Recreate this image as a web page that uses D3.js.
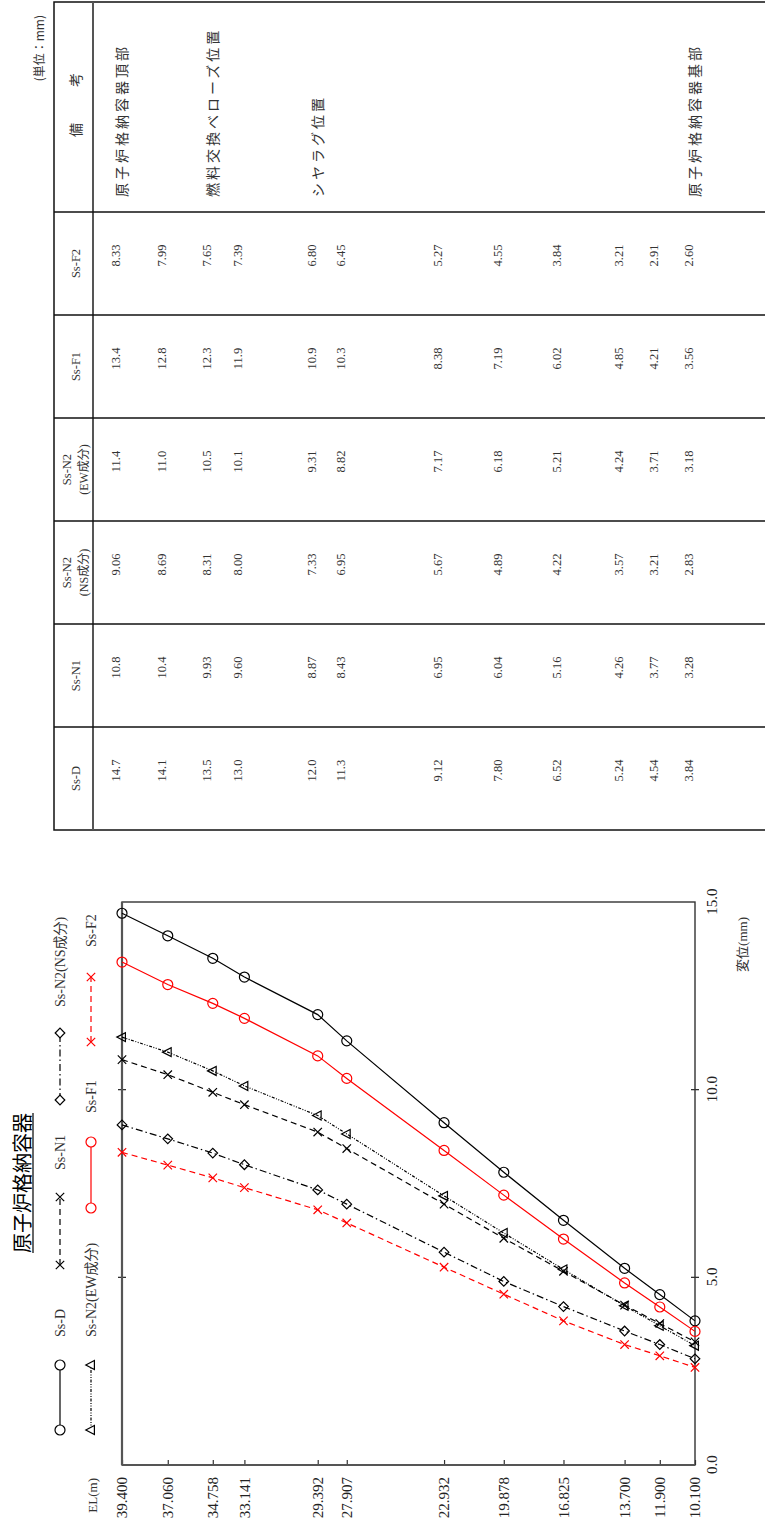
<!DOCTYPE html>
<html><head><meta charset="utf-8">
<script src="https://cdn.jsdelivr.net/npm/d3@7"></script>
<style>html,body{margin:0;padding:0;background:#fff;overflow:hidden}</style>
</head><body>
<svg id="c" width="765" height="1528"></svg>
<script>
// ---------- data ----------
const elevations = [39.400, 37.060, 34.758, 33.141, 29.392, 27.907, 22.932, 19.878, 16.825, 13.700, 11.900, 10.100];
const elLabels = ["39.400","37.060","34.758","33.141","29.392","27.907","22.932","19.878","16.825","13.700","11.900","10.100"];
const seriesNames = ["Ss-D","Ss-N1","Ss-N2(NS成分)","Ss-N2(EW成分)","Ss-F1","Ss-F2"];
const ssD    = [14.7, 14.1, 13.5, 13.0, 12.0, 11.3, 9.12, 7.80, 6.52, 5.24, 4.54, 3.84];
const ssN1   = [10.8, 10.4, 9.93, 9.60, 8.87, 8.43, 6.95, 6.04, 5.16, 4.26, 3.77, 3.28];
const ssN2NS = [9.06, 8.69, 8.31, 8.00, 7.33, 6.95, 5.67, 4.89, 4.22, 3.57, 3.21, 2.83];
const ssN2EW = [11.4, 11.0, 10.5, 10.1, 9.31, 8.82, 7.17, 6.18, 5.21, 4.24, 3.71, 3.18];
const ssF1   = [13.4, 12.8, 12.3, 11.9, 10.9, 10.3, 8.38, 7.19, 6.02, 4.85, 4.21, 3.56];
const ssF2   = [8.33, 7.99, 7.65, 7.39, 6.80, 6.45, 5.27, 4.55, 3.84, 3.21, 2.91, 2.60];
const tableHeaders = [["Ss-D"],["Ss-N1"],["Ss-N2","(NS成分)"],["Ss-N2","(EW成分)"],["Ss-F1"],["Ss-F2"]];
const remarks = ["原子炉格納容器頂部","","燃料交換ベローズ位置","","シヤラグ位置","","","","","","","原子炉格納容器基部"];
const dispTicks = [0, 5, 10, 15];
const dispTickLabels = ["0.0","5.0","10.0","15.0"];
const titleText = "原子炉格納容器";

// ---------- styles ----------
const serif = "'Liberation Serif','Noto Sans CJK JP',serif";
const cjk = "'Noto Sans CJK JP',sans-serif";
const allSeries = [ssD, ssN1, ssN2NS, ssN2EW, ssF1, ssF2];
const styles = [
  {color:"#000", dash:null, sym:"circle"},
  {color:"#000", dash:"6,4", sym:"cross"},
  {color:"#000", dash:"7,3,1.5,3", sym:"diamond"},
  {color:"#000", dash:"3,1.5,1,1.5,1,1.5", sym:"triangle"},
  {color:"#f00", dash:null, sym:"circle"},
  {color:"#f00", dash:"6,4", sym:"cross"}
];
const symPath = {
  circle: d3.symbol().type(d3.symbolCircle).size(Math.PI*25)(),
  cross: "M-4.2,-4.2L4.2,4.2M-4.2,4.2L4.2,-4.2",
  diamond: "M0,-4.8L4.8,0L0,4.8L-4.8,0Z",
  triangle: "M0,-5.2L4.5,3.4L-4.5,3.4Z"
};

const svg = d3.select("#c");
svg.append("rect").attr("width",765).attr("height",1528).attr("fill","#fff");
// landscape page rotated onto the portrait canvas
const g = svg.append("g").attr("transform","translate(0,1528) rotate(-90)");

// ---------- scales ----------
const x = d3.scaleLinear().domain([0,15]).range([63,626]);
const y = d3.scaleLinear().domain([10.1,39.4]).range([695,122]);

// ---------- title ----------
const title = g.append("text").attr("x",345).attr("y",29.5).attr("text-anchor","middle")
  .attr("font-family",cjk).attr("font-size",20).attr("fill","#000").text(titleText);
const tl = title.node().getComputedTextLength();
g.append("line").attr("x1",345-tl/2).attr("x2",345+tl/2).attr("y1",33).attr("y2",33)
  .attr("stroke","#000").attr("stroke-width",1.2);

// ---------- legend ----------
const legendItems = [
  {s:0, x1:98,  x2:163, tx:191, y:60},
  {s:1, x1:263, x2:331, tx:358, y:60},
  {s:2, x1:428, x2:495, tx:521, y:60},
  {s:3, x1:98,  x2:163, tx:191, y:91},
  {s:4, x1:320, x2:386, tx:415, y:91},
  {s:5, x1:486, x2:551, tx:581, y:91}
];
const lg = g.append("g");
legendItems.forEach(it => {
  const st = styles[it.s];
  lg.append("line").attr("x1",it.x1).attr("x2",it.x2).attr("y1",it.y).attr("y2",it.y)
    .attr("stroke",st.color).attr("stroke-width",1.2).attr("stroke-dasharray",st.dash);
  [it.x1,it.x2].forEach(px => lg.append("path").attr("d",symPath[st.sym])
    .attr("transform",`translate(${px},${it.y})`).attr("fill","#fff")
    .attr("stroke",st.color).attr("stroke-width",1.2));
  lg.append("text").attr("x",it.tx).attr("y",it.y+5).attr("font-family",serif)
    .attr("font-size",14).attr("fill","#333").text(seriesNames[it.s]);
});

// ---------- axes ----------
const yAxis = g.append("g").attr("transform","translate(63,0)")
  .call(d3.axisLeft(y).tickValues(elevations).tickSize(-5).tickPadding(12)
    .tickFormat((d,i)=>elLabels[i]));
yAxis.select(".domain").remove();
yAxis.selectAll("line").attr("stroke","#333").attr("stroke-width",1.2);
yAxis.selectAll("text").attr("font-family",serif).attr("font-size",15).attr("fill","#222");

const xAxis = g.append("g").attr("transform","translate(0,695)")
  .call(d3.axisBottom(x).tickValues(dispTicks).tickSize(0).tickPadding(11)
    .tickFormat((d,i)=>dispTickLabels[i]));
xAxis.select(".domain").remove();
xAxis.selectAll("text").attr("font-family",serif).attr("font-size",15).attr("fill","#222");

// crossing ticks on top / bottom edges
[122,695].forEach(yy => {
  g.selectAll(null).data(dispTicks.filter(d=>d>0 && d<15)).enter().append("line")
    .attr("x1",d=>x(d)).attr("x2",d=>x(d)).attr("y1",yy-4).attr("y2",yy+4)
    .attr("stroke","#222").attr("stroke-width",1.2);
});

// frame
g.append("rect").attr("x",63).attr("y",122).attr("width",626-63).attr("height",695-122)
  .attr("fill","none").attr("stroke","#333").attr("stroke-width",1.4);
g.append("line").attr("x1",63).attr("x2",626).attr("y1",122).attr("y2",122)
  .attr("stroke","#555").attr("stroke-width",2.2);
g.append("line").attr("x1",63).attr("x2",63).attr("y1",122).attr("y2",695)
  .attr("stroke","#555").attr("stroke-width",2.2);

g.append("text").attr("x",50).attr("y",97).attr("text-anchor","end")
  .attr("font-family",serif).attr("font-size",13).attr("fill","#333").text("EL(m)");
g.append("text").attr("x",611).attr("y",747).attr("text-anchor","end")
  .attr("font-family",serif).attr("font-size",13).attr("fill","#333").text("変位(mm)");

// ---------- series ----------
const line = d3.line().x(d=>x(d.v)).y(d=>y(d.el));
allSeries.forEach((vals,si) => {
  const st = styles[si];
  const pts = vals.map((v,i)=>({v, el:elevations[i]}));
  g.append("path").datum(pts).attr("d",line).attr("fill","none")
    .attr("stroke",st.color).attr("stroke-width",1.2).attr("stroke-dasharray",st.dash);
  g.selectAll(null).data(pts).enter().append("path").attr("d",symPath[st.sym])
    .attr("transform",d=>`translate(${x(d.v)},${y(d.el)})`)
    .attr("fill","none").attr("stroke",st.color).attr("stroke-width",1.2);
});

// ---------- table ----------
const tX0 = 698, tX1 = 1316, tX2 = 1526, tY0 = 54, tYh = 93, tY1 = 775;
const band = d3.scaleBand().domain(d3.range(seriesNames.length)).range([tX0,tX1]);
const tg = g.append("g");
tg.append("rect").attr("x",tX0).attr("y",tY0).attr("width",tX2-tX0).attr("height",tY1-tY0)
  .attr("fill","none").attr("stroke","#111").attr("stroke-width",1.5);
tg.append("line").attr("x1",tX0).attr("x2",tX2).attr("y1",tYh).attr("y2",tYh)
  .attr("stroke","#555").attr("stroke-width",2);
tg.selectAll(null).data(d3.range(1,seriesNames.length+1)).enter().append("line")
  .attr("x1",d=>band(d)===undefined?tX1:band(d)).attr("x2",d=>band(d)===undefined?tX1:band(d))
  .attr("y1",tY0).attr("y2",tY1).attr("stroke","#111").attr("stroke-width",1.3);

const fmt = d3.format(".3r");
tableHeaders.forEach((h,ci) => {
  const cx = band(ci) + band.bandwidth()/2;
  if (h.length === 1) {
    tg.append("text").attr("x",cx).attr("y",79.5).attr("text-anchor","middle")
      .attr("font-family",serif).attr("font-size",12.5).attr("fill","#333").text(h[0]);
  } else {
    tg.append("text").attr("x",cx).attr("y",71).attr("text-anchor","middle")
      .attr("font-family",serif).attr("font-size",12.5).attr("fill","#333").text(h[0]);
    tg.append("text").attr("x",cx).attr("y",88).attr("text-anchor","middle")
      .attr("font-family",serif).attr("font-size",12).attr("fill","#333").text(h[1]);
  }
  allSeries[ci].forEach((v,ri) => {
    tg.append("text").attr("x",cx+8).attr("y",y(elevations[ri])-2).attr("text-anchor","middle")
      .attr("font-family",serif).attr("font-size",12.5).attr("fill","#333").text(fmt(v));
  });
});
tg.append("text").attr("x",1398).attr("y",81).attr("text-anchor","middle")
  .attr("font-family",cjk).attr("font-size",14).attr("fill","#333").text("備");
tg.append("text").attr("x",1448).attr("y",81).attr("text-anchor","middle")
  .attr("font-family",cjk).attr("font-size",14).attr("fill","#333").text("考");
remarks.forEach((r,ri) => {
  if (!r) return;
  tg.append("text").attr("x",tX1+15).attr("y",y(elevations[ri])+5)
    .attr("font-family",cjk).attr("font-size",14).attr("letter-spacing",3)
    .attr("fill","#333").text(r);
});
g.append("text").attr("x",1513).attr("y",44).attr("text-anchor","end")
  .attr("font-family",cjk).attr("font-size",12).attr("fill","#333").text("(単位：mm)");
</script>
</body></html>
